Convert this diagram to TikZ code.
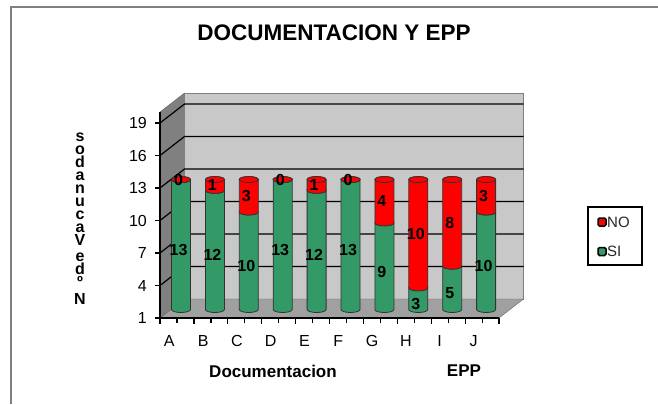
\documentclass[tikz,border=0pt]{standalone}
\usepackage{fontspec}
\setmainfont{Liberation Sans}
\definecolor{sigreen}{HTML}{339966}
\definecolor{nored}{HTML}{FF0000}
\definecolor{sidewall}{HTML}{808080}
\definecolor{backwall}{HTML}{C8C8C8}
\definecolor{floorgray}{HTML}{A0A0A0}
\tikzset{
  val/.style={font=\fontsize{16}{18}\selectfont\bfseries, inner sep=0pt},
  tick label/.style={font=\fontsize{16}{18}\selectfont, inner sep=0pt},
  axis title/.style={font=\fontsize{17}{20}\selectfont\bfseries, inner sep=0pt},
  grid line/.style={black, line width=1.2pt},
  cyl edge/.style={draw=black!80, line width=0.8pt},
  legend key/.style={draw=black, line width=1.5pt, rounded corners=1.5pt, minimum size=8pt, inner sep=0pt},
  legend text/.style={font=\fontsize{15}{17}\selectfont, text=black!85, inner sep=0pt, anchor=west}
}
% one cylinder: name, centre x, SI, NO
\newcommand{\cylbar}[4]{%
  \pgfmathsetmacro{\yb}{309.5}%
  \pgfmathsetmacro{\ym}{309.5-(#3-1)*10.83}%
  \pgfmathsetmacro{\yt}{309.5-(#3+#4-1)*10.83}%
  \pgfmathsetmacro{\ysi}{309.5-(#3/2-1)*10.83}%
  \pgfmathsetmacro{\yno}{309.5-(#3+#4/2-1)*10.83}%
  \filldraw[fill=sigreen, cyl edge] (#2-9.5,\yb) arc[start angle=180, end angle=360, x radius=9.5pt, y radius=3pt] -- (#2+9.5,\ym) arc[start angle=0, end angle=-180, x radius=9.5pt, y radius=3pt] -- cycle;
  \filldraw[fill=nored, cyl edge] (#2-9.5,\ym) arc[start angle=180, end angle=360, x radius=9.5pt, y radius=3pt] -- (#2+9.5,\yt) arc[start angle=0, end angle=180, x radius=9.5pt, y radius=3pt] -- cycle;
  \filldraw[fill=nored, cyl edge] (#2,\yt) ellipse[x radius=9.5pt, y radius=3pt];
  \node[val] (si#1) at (#2-2.5,\ysi) {#3};
  \node[val] (no#1) at (#2-2.5,\yno) {#4};
}
\begin{document}
\begin{tikzpicture}[x=1pt, y=-1pt]
    \fill[white] (0,0) rectangle (658,404);
    \useasboundingbox (0,0) rectangle (658,404);
    \draw[sidewall, line width=2pt] (11,404) -- (11,7) -- (658,7);

    % Title
    \node[font=\fontsize{22.5}{26}\selectfont\bfseries] (title) at (334,33) {DOCUMENTACION Y EPP};

    % Walls and floor
    \filldraw[fill=sidewall, draw=black!60] (160,318) -- (160,112) -- (184.5,93) -- (184.5,299) -- cycle;
    \filldraw[fill=backwall, draw=black!50] (184.5,93) rectangle (523.5,299);
    \filldraw[fill=floorgray, draw=black!60] (160,318) -- (499,318) -- (523.5,299) -- (184.5,299) -- cycle;

    % Grid lines
    \draw[grid line] (160,285.5) -- (184.5,266.5) -- (523.5,266.5);
    \draw[grid line] (160,253) -- (184.5,234) -- (523.5,234);
    \draw[grid line] (160,220.5) -- (184.5,201.5) -- (523.5,201.5);
    \draw[grid line] (160,188) -- (184.5,169) -- (523.5,169);
    \draw[grid line] (160,155.5) -- (184.5,136.5) -- (523.5,136.5);
    \draw[grid line] (160,123) -- (184.5,104) -- (523.5,104);

    % Axes
    \draw[black, line width=1.2pt] (160,112) -- (160,318) -- (499,318);
    \draw[black, line width=1.2pt] (155,318) -- (160,318) (155,285.5) -- (160,285.5)
      (155,253) -- (160,253) (155,220.5) -- (160,220.5) (155,188) -- (160,188)
      (155,155.5) -- (160,155.5) (155,123) -- (160,123);
    \draw[black, line width=1.2pt] (160,318) -- (160,324) (177,318) -- (177,323)
      (193.9,318) -- (193.9,324) (210.9,318) -- (210.9,323) (227.8,318) -- (227.8,324)
      (244.8,318) -- (244.8,323) (261.7,318) -- (261.7,324) (278.7,318) -- (278.7,323)
      (295.6,318) -- (295.6,324) (312.6,318) -- (312.6,323) (329.5,318) -- (329.5,324)
      (346.5,318) -- (346.5,323) (363.4,318) -- (363.4,324) (380.4,318) -- (380.4,323)
      (397.3,318) -- (397.3,324) (414.3,318) -- (414.3,323) (431.2,318) -- (431.2,324)
      (448.2,318) -- (448.2,323) (465.1,318) -- (465.1,324) (482.1,318) -- (482.1,323)
      (499,318) -- (499,324);

    % Cylinders
    \cylbar{A}{181}{13}{0}
    \cylbar{B}{214.9}{12}{1}
    \cylbar{C}{248.8}{10}{3}
    \cylbar{D}{282.7}{13}{0}
    \cylbar{E}{316.6}{12}{1}
    \cylbar{F}{350.5}{13}{0}
    \cylbar{G}{384.4}{9}{4}
    \cylbar{H}{418.3}{3}{10}
    \cylbar{I}{452.2}{5}{8}
    \cylbar{J}{486.1}{10}{3}

    % Labels
    \node[tick label, anchor=east] (y1) at (147,318) {1};
    \node[tick label, anchor=east] (y4) at (147,285.5) {4};
    \node[tick label, anchor=east] (y7) at (147,253) {7};
    \node[tick label, anchor=east] (y10) at (147,220.5) {10};
    \node[tick label, anchor=east] (y13) at (147,188) {13};
    \node[tick label, anchor=east] (y16) at (147,155.5) {16};
    \node[tick label, anchor=east] (y19) at (147,123) {19};

    \node[tick label] (xA) at (169.3,341) {A};
    \node[tick label] (xB) at (203.1,341) {B};
    \node[tick label] (xC) at (236.9,341) {C};
    \node[tick label] (xD) at (270.7,341) {D};
    \node[tick label] (xE) at (304.5,341) {E};
    \node[tick label] (xF) at (338.3,341) {F};
    \node[tick label] (xG) at (372.1,341) {G};
    \node[tick label] (xH) at (405.9,341) {H};
    \node[tick label] (xI) at (439.7,341) {I};
    \node[tick label] (xJ) at (473.5,341) {J};

    \node[axis title] (docTitle) at (273,371) {Documentacion};
    \node[axis title] (eppTitle) at (464,371) {EPP};

    \node[font=\fontsize{16}{13}\selectfont\bfseries, align=center, inner sep=0pt, anchor=north] (yTitle) at (80,133)
      {s\\o\\d\\a\\n\\u\\c\\a\\V\\[3pt]e\\d\\º\\[4pt]N};

    % Legend
    \node[draw=black, line width=1.5pt, minimum width=54pt, minimum height=58pt, inner sep=0pt] (legend) at (615,236) {};
    \node[legend key, fill=nored] (noKey) at (602,222) {};
    \node[legend text] (noText) at (607,222) {NO};
    \node[legend key, fill=sigreen] (siKey) at (602,251.5) {};
    \node[legend text] (siText) at (607,251.5) {SI};
\end{tikzpicture}
\end{document}
